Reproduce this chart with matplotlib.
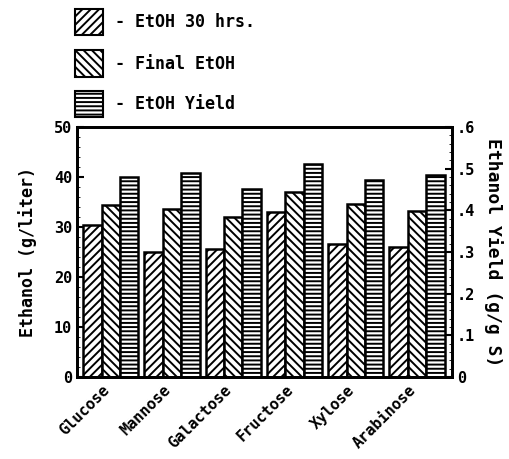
import matplotlib.pyplot as plt
from matplotlib.patches import Rectangle
from matplotlib.ticker import AutoMinorLocator
from matplotlib.transforms import ScaledTranslation
import numpy as np

plt.rcParams['hatch.linewidth'] = 1.4
plt.rcParams['font.family'] = 'DejaVu Sans Mono'
plt.rcParams['font.weight'] = 'bold'
plt.rcParams['axes.labelweight'] = 'bold'

sugars = ['Glucose', 'Mannose', 'Galactose', 'Fructose', 'Xylose', 'Arabinose']
etoh_30h = [30.5, 24.9, 25.6, 33.1, 26.6, 25.9]
etoh_final = [34.4, 33.7, 32.1, 37.1, 34.7, 33.3]
etoh_yield = [0.481, 0.491, 0.452, 0.512, 0.474, 0.485]

fig = plt.figure(figsize=(5.1, 4.59), dpi=100)
ax = fig.add_axes([0.151, 0.179, 0.735, 0.544])
ax2 = ax.twinx()

x = np.arange(len(sugars))
w = 0.3
ax.bar(x - w, etoh_30h, w, color='white', edgecolor='black', linewidth=1.8, hatch='////')
ax.bar(x, etoh_final, w, color='white', edgecolor='black', linewidth=1.8, hatch='\\\\\\\\')
ax2.bar(x + w, etoh_yield, w, color='white', edgecolor='black', linewidth=1.8, hatch='----')

ax.set_xlim(-0.55, 5.57)
ax.set_ylim(0, 50)
ax2.set_ylim(0, 0.6)
ax.set_yticks([0, 10, 20, 30, 40, 50])
ax2.set_yticks([0, 0.1, 0.2, 0.3, 0.4, 0.5, 0.6])
ax2.set_yticklabels(['0', '.1', '.2', '.3', '.4', '.5', '.6'])
ax.yaxis.set_minor_locator(AutoMinorLocator(5))
ax2.yaxis.set_minor_locator(AutoMinorLocator(5))
ax.tick_params(axis='y', direction='in', length=5, width=1.5, labelsize=11)
ax.tick_params(axis='y', which='minor', direction='in', length=2.5)
ax2.tick_params(axis='y', direction='in', length=5, width=1.5, labelsize=11)
ax2.tick_params(axis='y', which='minor', direction='in', length=2.5)
ax.set_xticks(x)
ax.set_xticklabels(sugars, rotation=45, ha='right', rotation_mode='anchor', fontsize=11)
ax.tick_params(axis='x', length=0, pad=4)
shift = ScaledTranslation(-0.09, 0, fig.dpi_scale_trans)
for t in ax.get_xticklabels():
    t.set_transform(t.get_transform() + shift)
for sp in ax.spines.values():
    sp.set_linewidth(2)
for sp in ax2.spines.values():
    sp.set_linewidth(2)

ax.set_ylabel('Ethanol (g/liter)', fontsize=12, labelpad=12)
ax2.set_ylabel('Ethanol Yield (g/g S)', fontsize=13, rotation=270, labelpad=20)

# legend drawn by hand at the top left
labels = ['- EtOH 30 hrs.', '- Final EtOH', '- EtOH Yield']
hatches = ['////', '\\\\\\\\', '----']
rows = [0.952, 0.861, 0.773]
for lab, h, yy in zip(labels, hatches, rows):
    fig.add_artist(Rectangle((0.148, yy - 0.028), 0.053, 0.057, transform=fig.transFigure,
                             facecolor='white', edgecolor='black', linewidth=1.5, hatch=h))
    fig.text(0.225, yy, lab, fontsize=12, va='center', ha='left')

fig.savefig('out.png', dpi=100)
